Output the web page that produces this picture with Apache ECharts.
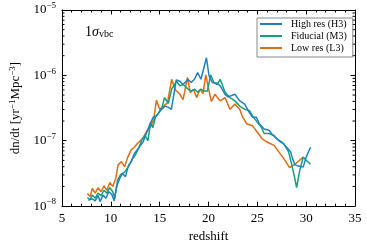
<!DOCTYPE html>
<html>
<head>
<meta charset="utf-8">
<script src="https://cdn.jsdelivr.net/npm/echarts@6/dist/echarts.min.js"></script>
<style>html,body{margin:0;padding:0;background:#fff}#c{width:367px;height:248px}</style>
</head>
<body>
<div id="c"></div>
<script>
// ---- data ----
const seriesNames = ['High res (H3)', 'Fiducial (M3)', 'Low res (L3)'];
const seriesColors = ['#1f80c0', '#13a07a', '#e06c14'];

const zHigh = [7.7,7.9,8.1,8.4,8.7,8.9,9.2,9.5,9.8,10.1,10.35,10.6,10.9,11.2,11.5,11.8,12.1,12.4,12.7,13.0,13.3,13.6,14.0,14.34,14.67,15.07,15.57,15.9,16.2,16.7,17.07,17.4,17.9,18.23,18.56,18.89,19.23,19.79,20.06,20.4,20.89,21.2,21.7,22.0,22.7,23.2,23.7,24.2,24.5,24.9,25.2,25.7,26.2,26.5,27.0,27.5,28.0,28.4,28.6,28.85,29.3,29.7,30.0,30.45];
const vHigh = [1.23e-8,1.15e-8,1.29e-8,1.20e-8,1.45e-8,1.17e-8,1.48e-8,1.32e-8,1.66e-8,1.51e-8,1.20e-8,2.00e-8,2.63e-8,3.16e-8,2.82e-8,4.17e-8,4.79e-8,6.31e-8,7.24e-8,8.32e-8,9.55e-8,1.26e-7,1.78e-7,2.29e-7,2.40e-7,2.88e-7,3.39e-7,3.24e-7,3.02e-7,8.51e-7,8.13e-7,7.24e-7,8.71e-7,7.76e-7,8.71e-7,1.10e-6,8.71e-7,1.86e-6,9.77e-7,7.76e-7,7.59e-7,6.92e-7,5.13e-7,4.68e-7,5.13e-7,4.07e-7,3.63e-7,2.69e-7,2.29e-7,2.29e-7,1.82e-7,1.51e-7,1.45e-7,1.26e-7,1.07e-7,9.55e-8,7.94e-8,6.76e-8,5.37e-8,4.27e-8,4.07e-8,3.98e-8,5.62e-8,7.94e-8];

const zFid = [7.6,7.9,8.1,8.4,8.7,9.0,9.3,9.6,9.9,10.2,10.4,10.7,11.0,11.4,11.8,12.2,12.5,12.9,13.2,13.5,13.8,14.07,14.3,14.57,14.9,15.24,15.5,15.9,16.23,16.73,17.07,17.4,17.9,18.23,18.56,18.89,19.23,19.56,19.89,20.22,20.55,20.89,21.2,21.7,22.2,22.7,23.2,23.7,24.2,24.5,25.0,25.4,25.7,26.2,26.7,27.2,27.7,28.2,28.5,28.8,29.02,29.35,29.7,30.0,30.45];
const vFid = [1.35e-8,1.26e-8,1.48e-8,1.32e-8,1.58e-8,1.45e-8,1.74e-8,1.58e-8,1.91e-8,1.66e-8,1.32e-8,2.51e-8,3.02e-8,3.31e-8,3.98e-8,5.25e-8,6.03e-8,7.94e-8,1.05e-7,1.20e-7,1.00e-7,1.91e-7,1.58e-7,2.29e-7,2.69e-7,3.24e-7,4.57e-7,3.72e-7,6.17e-7,8.13e-7,6.92e-7,7.24e-7,6.17e-7,5.75e-7,6.17e-7,5.50e-7,6.17e-7,5.75e-7,5.75e-7,1.02e-6,7.76e-7,7.24e-7,8.71e-7,5.50e-7,4.57e-7,4.07e-7,3.39e-7,3.02e-7,2.88e-7,2.40e-7,1.91e-7,1.62e-7,1.29e-7,1.29e-7,1.20e-7,1.00e-7,9.02e-8,6.76e-8,4.47e-8,2.82e-8,1.91e-8,3.55e-8,5.62e-8,5.01e-8,4.37e-8];

const zLow = [7.6,7.9,8.1,8.4,8.7,9.0,9.3,9.6,9.9,10.2,10.5,10.75,11.08,11.41,11.74,12.08,12.41,12.74,13.24,13.74,14.07,14.4,14.67,15.0,15.4,15.8,16.23,16.6,17.07,17.4,17.85,18.13,18.46,18.79,19.13,19.45,19.72,20.06,20.3,20.65,21.2,21.7,22.2,22.7,23.2,23.5,23.9,24.5,25.0,25.5,26.0,26.7,27.2,27.7,28.3,28.85,29.7];
const vLow = [1.55e-8,1.41e-8,1.86e-8,1.58e-8,1.91e-8,1.66e-8,2.04e-8,1.74e-8,2.29e-8,2.00e-8,2.63e-8,4.27e-8,4.79e-8,3.98e-8,5.62e-8,7.24e-8,7.94e-8,9.12e-8,1.07e-7,1.45e-7,1.62e-7,2.14e-7,4.17e-7,3.02e-7,3.39e-7,3.80e-7,8.71e-7,6.03e-7,5.13e-7,4.27e-7,9.33e-7,5.43e-7,6.10e-7,4.57e-7,6.10e-7,5.25e-7,1.02e-6,5.75e-7,3.98e-7,5.13e-7,4.07e-7,4.57e-7,3.02e-7,3.63e-7,3.02e-7,2.29e-7,1.82e-7,1.70e-7,1.35e-7,1.07e-7,9.55e-8,8.51e-8,6.76e-8,5.37e-8,3.89e-8,4.37e-8,5.62e-8];

const xTicks = [5,10,15,20,25,30,35];
const yMinorTicks = [2e-8,3e-8,4e-8,5e-8,6e-8,7e-8,8e-8,9e-8,2e-7,3e-7,4e-7,5e-7,6e-7,7e-7,8e-7,9e-7,2e-6,3e-6,4e-6,5e-6,6e-6,7e-6,8e-6,9e-6];

// ---- chart ----
const FONT = 'Liberation Serif';
const chart = echarts.init(document.getElementById('c'), null, {renderer: 'canvas'});
const pair = (zs, vs) => zs.map((z, i) => [z, vs[i]]);
const allData = [pair(zHigh, vHigh), pair(zFid, vFid), pair(zLow, vLow)];

const xCommon = {
  type: 'value', min: xTicks[0], max: xTicks[xTicks.length - 1], interval: 5,
  axisLine: {show: true, lineStyle: {color: '#000', width: 1}},
  axisTick: {show: true, inside: true, length: 4.5, lineStyle: {color: '#000'}},
  minorTick: {show: true, splitNumber: 5, length: 2.5, lineStyle: {color: '#000'}},
  splitLine: {show: false}
};
const yCommon = {
  type: 'log', logBase: 10, min: 1e-8, max: 1e-5,
  axisLine: {show: true, lineStyle: {color: '#000', width: 1}},
  axisTick: {show: true, inside: true, length: 4.5, lineStyle: {color: '#000'}},
  splitLine: {show: false}
};

const option = {
  animation: false,
  backgroundColor: '#fff',
  grid: {left: 54, right: 12, top: 10, bottom: 38, containLabel: false},
  textStyle: {fontFamily: FONT},
  legend: {
    orient: 'vertical', left: 257, top: 18,
    data: seriesNames,
    icon: 'rect', itemWidth: 22, itemHeight: 2, itemGap: 2,
    borderColor: '#888', borderWidth: 1, borderRadius: 0,
    padding: [1, 6, 4, 3],
    textStyle: {fontFamily: FONT, fontSize: 10, color: '#000', padding: [0, 0, 0, 4]}
  },
  xAxis: [
    Object.assign({}, xCommon, {
      position: 'bottom', name: 'redshift', nameLocation: 'middle', nameGap: 21,
      nameTextStyle: {fontFamily: FONT, fontSize: 13, color: '#000'},
      axisLabel: {fontFamily: FONT, fontSize: 13, color: '#000', margin: 6}
    }),
    Object.assign({}, xCommon, {position: 'top', axisLabel: {show: false}})
  ],
  yAxis: [
    Object.assign({}, yCommon, {
      position: 'left',
      name: 'dn/dt [yr{s|−1}Mpc{s|−3}]', nameLocation: 'middle', nameGap: 36, nameRotate: 90,
      nameTextStyle: {fontFamily: FONT, fontSize: 13, color: '#000',
        rich: {s: {fontFamily: FONT, fontSize: 9, color: '#000', padding: [0, 0, 7, 0]}}},
      axisLabel: {
        margin: 6, color: '#000',
        formatter: v => '{b|10}{s|−' + Math.abs(Math.round(Math.log10(v))) + '}',
        rich: {
          b: {fontFamily: FONT, fontSize: 13, color: '#000'},
          s: {fontFamily: FONT, fontSize: 9, color: '#000', padding: [0, 0, 8, 0]}
        }
      }
    }),
    Object.assign({}, yCommon, {position: 'right', axisLabel: {show: false}})
  ],
  graphic: [{
    type: 'text', left: 85, top: 25,
    style: {
      text: '{a|1}{g|σ}{u|vbc}',
      rich: {
        a: {fontFamily: FONT, fontSize: 14, fill: '#000'},
        g: {fontFamily: FONT, fontSize: 14, fontStyle: 'italic', fill: '#000'},
        u: {fontFamily: FONT, fontSize: 10, fill: '#000', padding: [5, 0, 0, 0]}
      }
    }
  }],
  series: seriesNames.map((n, i) => ({
    name: n, type: 'line', data: allData[i],
    xAxisIndex: 0, yAxisIndex: 0,
    showSymbol: false, symbol: 'none',
    lineStyle: {color: seriesColors[i], width: 1.5},
    itemStyle: {color: seriesColors[i]},
    z: 3 + (2 - i)
  })).concat([{
    type: 'custom', name: 'minor', silent: true, xAxisIndex: 0, yAxisIndex: 0,
    data: yMinorTicks.map(v => [xTicks[0], v]),
    renderItem: (params, api) => {
      const v = api.value(1);
      const l = api.coord([xTicks[0], v]);
      const r = api.coord([xTicks[xTicks.length - 1], v]);
      return {type: 'group', children: [
        {type: 'line', shape: {x1: l[0], y1: l[1], x2: l[0] + 2.5, y2: l[1]}, style: {stroke: '#000', lineWidth: 1}},
        {type: 'line', shape: {x1: r[0], y1: r[1], x2: r[0] - 2.5, y2: r[1]}, style: {stroke: '#000', lineWidth: 1}}
      ]};
    }
  }])
};
chart.setOption(option);
</script>
</body>
</html>
